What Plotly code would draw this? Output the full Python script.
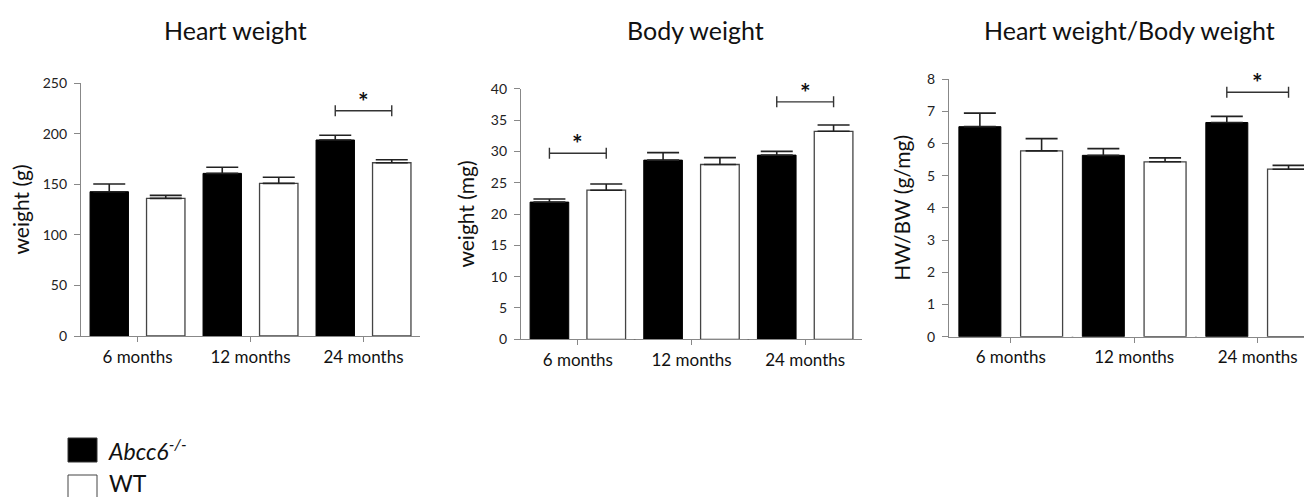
import plotly.graph_objects as go

categories = ["6 months", "12 months", "24 months"]
group_names = ["Abcc6-/-", "WT"]

hw_ko = [142.6, 160.7, 193.7]
hw_ko_err = [7.6, 6.0, 4.6]
hw_wt = [136.0, 150.8, 171.2]
hw_wt_err = [3.0, 6.0, 3.0]

bw_ko = [21.9, 28.6, 29.4]
bw_ko_err = [0.5, 1.2, 0.6]
bw_wt = [23.8, 27.9, 33.2]
bw_wt_err = [1.0, 1.1, 1.0]

ratio_ko = [6.52, 5.63, 6.65]
ratio_ko_err = [0.42, 0.21, 0.19]
ratio_wt = [5.77, 5.43, 5.20]
ratio_wt_err = [0.38, 0.12, 0.12]

titles = ["Heart weight", "Body weight", "Heart weight/Body weight"]
y_titles = ["weight (g)", "weight (mg)", "HW/BW (g/mg)"]
y_ranges = [[0, 250], [0, 40], [0, 8]]
y_dticks = [50, 5, 1]

# significance brackets: (panel, category index, bracket level, star level)
sig_panel = [0, 1, 1, 2]
sig_cat = [2, 0, 2, 2]
sig_level = [222.6, 29.7, 37.9, 7.59]
sig_star = [232.0, 31.3, 39.5, 7.92]

panels = [(hw_ko, hw_ko_err, hw_wt, hw_wt_err),
          (bw_ko, bw_ko_err, bw_wt, bw_wt_err),
          (ratio_ko, ratio_ko_err, ratio_wt, ratio_wt_err)]

# page body has an 8px margin: figure is drawn 8px in from the window's corner
OFF = 8
W, H = 1312 - OFF, 497 - OFF


def px(x):
    return (x - OFF) / W


def py(y):
    return 1 - (y - OFF) / H


x_dom = [[px(81), px(420)], [px(521), px(862)], [px(949), 1.0]]
y_dom = [[py(336), py(83)], [py(339.3), py(88.7)], [py(336.7), py(79)]]
x_ranges = [[-0.5, 2.5], [-0.5, 2.5], [-0.5, 2.44]]
title_x = [235, 695, 1129]

FONT = "Lato"
fig = go.Figure()
shapes = []
annotations = []

for i, (ko, koe, wt, wte) in enumerate(panels):
    xa = "x" if i == 0 else f"x{i+1}"
    ya = "y" if i == 0 else f"y{i+1}"
    fig.add_trace(go.Bar(
        x=categories, y=ko, name=group_names[0], xaxis=xa, yaxis=ya,
        marker=dict(color="black", line=dict(color="black", width=1)),
        error_y=dict(type="data", array=koe, symmetric=False, arrayminus=[0] * 3,
                     color="#222", thickness=1.6, width=16),
        offsetgroup="ko", showlegend=False))
    fig.add_trace(go.Bar(
        x=categories, y=wt, name=group_names[1], xaxis=xa, yaxis=ya,
        marker=dict(color="white", line=dict(color="#444", width=1.3)),
        error_y=dict(type="data", array=wte, symmetric=False, arrayminus=[0] * 3,
                     color="#222", thickness=1.6, width=16),
        offsetgroup="wt", showlegend=False))

    xkey = "xaxis" if i == 0 else f"xaxis{i+1}"
    ykey = "yaxis" if i == 0 else f"yaxis{i+1}"
    fig.layout[xkey] = dict(
        domain=x_dom[i], anchor=ya, type="category", range=x_ranges[i],
        automargin=False,
        showline=True, linecolor="#888", linewidth=1.3,
        ticks="outside", ticklen=5, tickcolor="#888", tickwidth=1.3,
        tickfont=dict(family=FONT, size=17, color="#111"),
        showgrid=False, zeroline=False, fixedrange=True)
    fig.layout[ykey] = dict(
        domain=y_dom[i], anchor=xa, range=y_ranges[i], dtick=y_dticks[i],
        automargin=False,
        showline=True, linecolor="#888", linewidth=1.3,
        ticks="outside", ticklen=6, tickcolor="#888", tickwidth=1.3,
        tickfont=dict(family=FONT, size=14, color="#222"),
        ticklabelstandoff=4,
        title=dict(text=y_titles[i], font=dict(family=FONT, size=21, color="#111"), standoff=10),
        showgrid=False, zeroline=False, fixedrange=True)

    xref = "x" if i == 0 else f"x{i+1}"
    yref = "y" if i == 0 else f"y{i+1}"
    # category separators below the axis
    for b in [0.5, 1.5]:
        shapes.append(dict(type="line", xref=xref, yref=yref, x0=b, x1=b,
                           ysizemode="pixel", yanchor=0, y0=0, y1=-34,
                           line=dict(color="#111", width=1.6)))
    # end tick at right of axis
    if x_ranges[i][1] >= 2.5:
        shapes.append(dict(type="line", xref=xref, yref=yref, x0=2.5, x1=2.5,
                           ysizemode="pixel", yanchor=0, y0=0, y1=-5,
                           line=dict(color="#888", width=1.3)))

    annotations.append(dict(text=titles[i], xref="paper", yref="paper",
                            x=px(title_x[i]), y=py(30), xanchor="center", yanchor="middle",
                            showarrow=False, font=dict(family=FONT, size=25, color="#111")))

for p, c, lv, st in zip(sig_panel, sig_cat, sig_level, sig_star):
    xref = "x" if p == 0 else f"x{p+1}"
    yref = "y" if p == 0 else f"y{p+1}"
    shapes.append(dict(type="line", xref=xref, yref=yref, x0=c - 0.25, x1=c + 0.25,
                       y0=lv, y1=lv, line=dict(color="#333", width=1.4)))
    for e in [c - 0.25, c + 0.25]:
        shapes.append(dict(type="line", xref=xref, yref=yref, x0=e, x1=e,
                           ysizemode="pixel", yanchor=lv, y0=-5.5, y1=5.5,
                           line=dict(color="#333", width=1.4)))
    annotations.append(dict(text="<b>*</b>", xref=xref, yref=yref, x=c, y=st,
                            xanchor="center", yanchor="middle", showarrow=False,
                            font=dict(family=FONT, size=25, color="#111")))

# legend drawn manually
shapes.append(dict(type="rect", xref="paper", yref="paper",
                   x0=px(68), x1=px(97), y0=py(462), y1=py(438),
                   fillcolor="black", line=dict(color="#333", width=1)))
shapes.append(dict(type="rect", xref="paper", yref="paper",
                   x0=px(68), x1=px(97), y0=py(499), y1=py(475),
                   fillcolor="white", line=dict(color="#444", width=1)))
annotations.append(dict(text="<i>Abcc6<sup>-/-</sup></i>", xref="paper", yref="paper",
                        x=px(106), y=py(449), xanchor="left", yanchor="middle",
                        showarrow=False, font=dict(family=FONT, size=23, color="#111")))
annotations.append(dict(text="WT", xref="paper", yref="paper",
                        x=px(107), y=py(483), xanchor="left", yanchor="middle",
                        showarrow=False, font=dict(family=FONT, size=23, color="#111")))

fig.update_layout(
    width=W, height=H, margin=dict(l=0, r=0, t=0, b=0, autoexpand=False),
    paper_bgcolor="white", plot_bgcolor="white",
    barmode="group", bargap=0.0, bargroupgap=0.32,
    shapes=shapes, annotations=annotations, showlegend=False)

fig.write_html("out.html")
